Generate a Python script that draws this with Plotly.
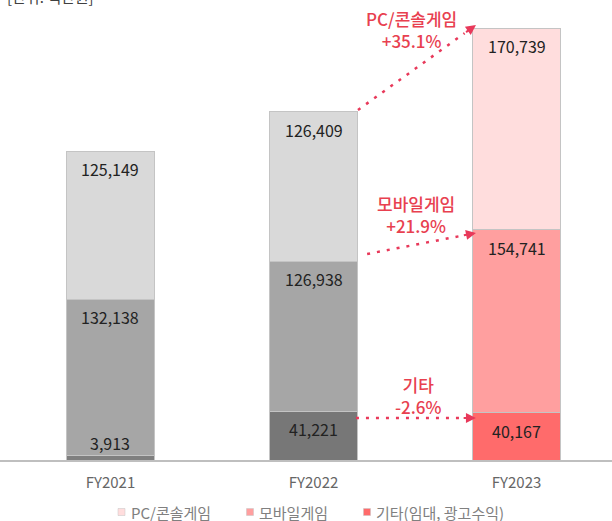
import plotly.graph_objects as go

years = ["FY2021", "FY2022", "FY2023"]
other = [3913, 41221, 40167]
mobile = [132138, 126938, 154741]
pc = [125149, 126409, 170739]

series_names = ["PC/콘솔게임", "모바일게임", "기타(임대, 광고수익)"]
growth_labels = ["PC/콘솔게임<br>+35.1%", "모바일게임<br>+21.9%", "기타<br>-2.6%"]
unit_label = "[단위: 백만원]"

FONT = "Noto Sans CJK KR"
RED = "#e8404f"
ARROW = "#e8395a"
BW = 0.43
W, H, B = 612, 521, 61
PH = H - B

col_other = ["#7f7f7f", "#777777", "#ff6b6b"]
col_mobile = ["#a6a6a6", "#a6a6a6", "#ff9f9f"]
col_pc = ["#d9d9d9", "#d9d9d9", "#ffdddd"]
legend_cols = ["#ffdddd", "#ff9f9f", "#ff6b6b"]

fig = go.Figure()
for name, vals, cols in [(series_names[2], other, col_other),
                         (series_names[1], mobile, col_mobile),
                         (series_names[0], pc, col_pc)]:
    fig.add_trace(go.Bar(x=years, y=vals, width=BW, name=name, showlegend=False,
                         marker=dict(color=cols, line=dict(color="#c4c4c4", width=1)),
                         hoverinfo="skip"))

anns = []
shapes = []
# value labels
for i, yr in enumerate(years):
    tops = [other[i], other[i] + mobile[i], other[i] + mobile[i] + pc[i]]
    for v, t in zip([other[i], mobile[i], pc[i]], tops):
        shift = -18 if v > 10000 else 12
        anns.append(dict(x=i, y=t, xref="x", yref="y", text=f"{v:,}", showarrow=False,
                         yshift=shift, font=dict(family=FONT, size=16, color="#222222")))

tot22 = other[1] + mobile[1] + pc[1]
tot23 = other[2] + mobile[2] + pc[2]
mob22 = other[1] + mobile[1]
mob23 = other[2] + mobile[2]

arrows = [
    # (x0, y0, xtail, ytail, x1, y1)
    (1.219, tot22 + 1700, 1.744, tot23 - 4400, 1.800, tot23 + 2500),
    (1.264, mob22 + 6200, 1.733, mob23 - 5000, 1.800, mob23 - 2800),
    (1.209, other[1] - 5700, 1.732, other[1] - 5700, 1.800, other[1] - 5700),
]
for x0, y0, xt, yt, x1, y1 in arrows:
    shapes.append(dict(type="line", xref="x", yref="y", x0=x0, y0=y0, x1=xt, y1=yt,
                       line=dict(color=ARROW, width=2.5, dash="3px,7px")))
    anns.append(dict(x=x1, y=y1, ax=xt, ay=yt, xref="x", yref="y", axref="x", ayref="y",
                     text="", showarrow=True, arrowhead=2, arrowsize=1, arrowwidth=2,
                     arrowcolor=ARROW))

label_pos = [(1.485, 364800), (1.505, 207400), (1.515, 55000)]
for (lx, ly), txt in zip(label_pos, growth_labels):
    anns.append(dict(x=lx, y=ly, xref="x", yref="y", text=txt, showarrow=False,
                     font=dict(family=FONT, size=17, color=RED, weight=500), align="center"))

anns.append(dict(x=0.008, y=1 + 4 / PH, xref="paper", yref="paper", text=unit_label,
                 showarrow=False, xanchor="left", yanchor="middle",
                 font=dict(family=FONT, size=15, color="#404040")))

# custom legend (small squares + text)
leg_y = (PH - 512) / PH
leg_marker_px = [121.5, 250, 367]
for name, c, mx in zip(series_names, legend_cols, leg_marker_px):
    shapes.append(dict(type="rect", xref="paper", yref="paper",
                       x0=(mx - 3.5) / W, x1=(mx + 3.5) / W,
                       y0=leg_y - 3.5 / PH, y1=leg_y + 3.5 / PH,
                       fillcolor=c, line=dict(color="#c4c4c4", width=0.5)))
    anns.append(dict(x=(mx + 7) / W, y=leg_y, xref="paper", yref="paper", text=name,
                     showarrow=False, xanchor="left", yanchor="middle",
                     font=dict(family=FONT, size=15, color="#808080")))

fig.update_layout(
    width=W, height=H,
    margin=dict(l=0, r=0, t=0, b=B, autoexpand=False),
    paper_bgcolor="white", plot_bgcolor="white",
    barmode="stack",
    showlegend=False,
    annotations=anns, shapes=shapes,
    font=dict(family=FONT),
    xaxis=dict(range=[-0.544, 2.470], showline=True, linecolor="#bfbfbf", linewidth=2,
               showgrid=False, ticks="", ticklabelstandoff=8, automargin=False,
               tickfont=dict(family=FONT, size=15, color="#666666")),
    yaxis=dict(range=[0, 389344], visible=False, showgrid=False, automargin=False),
)

fig.write_html("out.html", config={"displayModeBar": False},
               post_script="document.body.style.margin='0';document.body.style.overflow='hidden';")
